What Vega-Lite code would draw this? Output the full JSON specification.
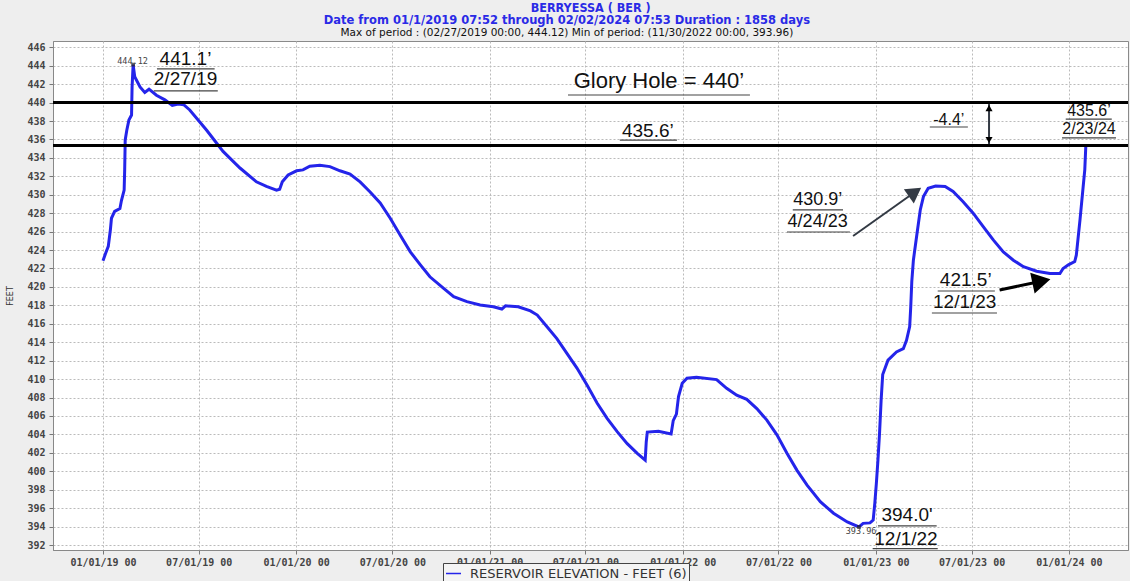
{
  "$schema": "https://vega.github.io/schema/vega-lite/v6.json",
  "width": 1075,
  "height": 509,
  "autosize": "none",
  "padding": {"left": 53, "top": 41, "right": 2, "bottom": 31},
  "config": {
    "background": "#eeeeee",
    "view": {"fill": "white", "stroke": "#8a8a8a"},
    "axis": {
      "labelFont": "DejaVu Sans Mono",
      "labelFontSize": 10,
      "labelFontWeight": "bold",
      "labelColor": "#444444",
      "labelOverlap": false,
      "tickColor": "#777777",
      "tickSize": 4,
      "domainColor": "#888888",
      "gridColor": "#bbbbbb",
      "gridDash": [2, 2],
      "gridWidth": 1
    }
  },
  "layer": [
    {
      "data": {"values": [
        {"date": "2019-01-01", "value": 422.85},
        {"date": "2019-01-06", "value": 423.65},
        {"date": "2019-01-11", "value": 424.4},
        {"date": "2019-01-15", "value": 426.2},
        {"date": "2019-01-17", "value": 427.45},
        {"date": "2019-01-23", "value": 428.2},
        {"date": "2019-02-02", "value": 428.5},
        {"date": "2019-02-05", "value": 429.4},
        {"date": "2019-02-10", "value": 430.5},
        {"date": "2019-02-11", "value": 432.7},
        {"date": "2019-02-12", "value": 435.95},
        {"date": "2019-02-15", "value": 437.0},
        {"date": "2019-02-19", "value": 438.1},
        {"date": "2019-02-24", "value": 438.65},
        {"date": "2019-02-25", "value": 441.7},
        {"date": "2019-02-27", "value": 444.12},
        {"date": "2019-03-02", "value": 442.8},
        {"date": "2019-03-12", "value": 441.7},
        {"date": "2019-03-21", "value": 441.1},
        {"date": "2019-03-29", "value": 441.45},
        {"date": "2019-04-12", "value": 440.8},
        {"date": "2019-04-28", "value": 440.3},
        {"date": "2019-05-12", "value": 439.7},
        {"date": "2019-05-23", "value": 439.85},
        {"date": "2019-06-03", "value": 439.75},
        {"date": "2019-06-14", "value": 439.2},
        {"date": "2019-07-16", "value": 437.0},
        {"date": "2019-08-16", "value": 434.7},
        {"date": "2019-09-17", "value": 432.9},
        {"date": "2019-10-18", "value": 431.4},
        {"date": "2019-11-06", "value": 430.9},
        {"date": "2019-11-25", "value": 430.5},
        {"date": "2019-12-01", "value": 430.6},
        {"date": "2019-12-06", "value": 431.4},
        {"date": "2019-12-17", "value": 432.15},
        {"date": "2020-01-02", "value": 432.6},
        {"date": "2020-01-14", "value": 432.7},
        {"date": "2020-01-27", "value": 433.1},
        {"date": "2020-02-15", "value": 433.2},
        {"date": "2020-03-05", "value": 433.05},
        {"date": "2020-03-24", "value": 432.6},
        {"date": "2020-04-12", "value": 432.25},
        {"date": "2020-05-01", "value": 431.4},
        {"date": "2020-05-20", "value": 430.3},
        {"date": "2020-06-08", "value": 429.1},
        {"date": "2020-06-27", "value": 427.45},
        {"date": "2020-07-16", "value": 425.6},
        {"date": "2020-08-04", "value": 423.8},
        {"date": "2020-08-23", "value": 422.4},
        {"date": "2020-09-10", "value": 421.1},
        {"date": "2020-10-06", "value": 419.85},
        {"date": "2020-10-25", "value": 418.95},
        {"date": "2020-11-19", "value": 418.4},
        {"date": "2020-12-14", "value": 418.05},
        {"date": "2021-01-08", "value": 417.85},
        {"date": "2021-01-24", "value": 417.6},
        {"date": "2021-01-31", "value": 417.95},
        {"date": "2021-02-24", "value": 417.85},
        {"date": "2021-03-19", "value": 417.4},
        {"date": "2021-04-01", "value": 416.95},
        {"date": "2021-04-19", "value": 415.7},
        {"date": "2021-05-08", "value": 414.4},
        {"date": "2021-05-27", "value": 412.8},
        {"date": "2021-06-15", "value": 411.2},
        {"date": "2021-07-04", "value": 409.35},
        {"date": "2021-07-23", "value": 407.4},
        {"date": "2021-08-11", "value": 405.75},
        {"date": "2021-08-30", "value": 404.3},
        {"date": "2021-09-18", "value": 403.0},
        {"date": "2021-10-07", "value": 401.95},
        {"date": "2021-10-22", "value": 401.2},
        {"date": "2021-10-24", "value": 403.2},
        {"date": "2021-10-26", "value": 404.25},
        {"date": "2021-11-16", "value": 404.35},
        {"date": "2021-12-10", "value": 404.05},
        {"date": "2021-12-14", "value": 405.5},
        {"date": "2021-12-20", "value": 406.2},
        {"date": "2021-12-24", "value": 408.1},
        {"date": "2021-12-31", "value": 409.55},
        {"date": "2022-01-09", "value": 410.1},
        {"date": "2022-01-27", "value": 410.2},
        {"date": "2022-03-06", "value": 409.95},
        {"date": "2022-03-25", "value": 409.0},
        {"date": "2022-04-13", "value": 408.25},
        {"date": "2022-05-02", "value": 407.8},
        {"date": "2022-05-21", "value": 406.8},
        {"date": "2022-06-09", "value": 405.55},
        {"date": "2022-06-28", "value": 403.95},
        {"date": "2022-07-17", "value": 401.95},
        {"date": "2022-08-05", "value": 400.1},
        {"date": "2022-08-24", "value": 398.5},
        {"date": "2022-09-18", "value": 396.7},
        {"date": "2022-10-13", "value": 395.45},
        {"date": "2022-11-08", "value": 394.5},
        {"date": "2022-11-30", "value": 393.96},
        {"date": "2022-12-08", "value": 394.35},
        {"date": "2022-12-21", "value": 394.4},
        {"date": "2022-12-27", "value": 394.7},
        {"date": "2022-12-30", "value": 396.5},
        {"date": "2023-01-02", "value": 398.7},
        {"date": "2023-01-05", "value": 401.2},
        {"date": "2023-01-08", "value": 404.1},
        {"date": "2023-01-11", "value": 407.7},
        {"date": "2023-01-14", "value": 410.5},
        {"date": "2023-01-24", "value": 412.05},
        {"date": "2023-02-09", "value": 412.95},
        {"date": "2023-02-22", "value": 413.3},
        {"date": "2023-02-28", "value": 414.2},
        {"date": "2023-03-06", "value": 415.7},
        {"date": "2023-03-08", "value": 417.85},
        {"date": "2023-03-10", "value": 420.6},
        {"date": "2023-03-13", "value": 422.9},
        {"date": "2023-03-19", "value": 425.45},
        {"date": "2023-03-26", "value": 428.35},
        {"date": "2023-04-01", "value": 429.8},
        {"date": "2023-04-10", "value": 430.7},
        {"date": "2023-04-24", "value": 430.95},
        {"date": "2023-05-12", "value": 430.9},
        {"date": "2023-05-27", "value": 430.35},
        {"date": "2023-06-15", "value": 429.25},
        {"date": "2023-07-04", "value": 428.0},
        {"date": "2023-07-23", "value": 426.55},
        {"date": "2023-08-11", "value": 425.1},
        {"date": "2023-08-30", "value": 423.8},
        {"date": "2023-09-18", "value": 422.9},
        {"date": "2023-10-07", "value": 422.2},
        {"date": "2023-11-01", "value": 421.7},
        {"date": "2023-11-26", "value": 421.45},
        {"date": "2023-12-15", "value": 421.45},
        {"date": "2023-12-21", "value": 422.0},
        {"date": "2023-12-31", "value": 422.4},
        {"date": "2024-01-12", "value": 422.75},
        {"date": "2024-01-15", "value": 423.45},
        {"date": "2024-01-22", "value": 427.3},
        {"date": "2024-01-28", "value": 430.9},
        {"date": "2024-01-31", "value": 432.7},
        {"date": "2024-02-02", "value": 435.35}
      ]},
      "mark": {"type": "line", "strokeWidth": 3, "interpolate": "linear"},
      "encoding": {
        "x": {
          "field": "date", "type": "temporal",
          "scale": {"type": "utc", "domain": ["2018-09-28T12:00:00Z", "2024-04-21T17:00:00Z"], "nice": false},
          "axis": {
            "title": null,
            "format": "%m/%d/%y %H",
            "labelPadding": 3,
            "tickCount": 40,
            "values": [
              {"year": 2019, "month": 1, "date": 1, "utc": true},
              {"year": 2019, "month": 7, "date": 1, "utc": true},
              {"year": 2020, "month": 1, "date": 1, "utc": true},
              {"year": 2020, "month": 7, "date": 1, "utc": true},
              {"year": 2021, "month": 1, "date": 1, "utc": true},
              {"year": 2021, "month": 7, "date": 1, "utc": true},
              {"year": 2022, "month": 1, "date": 1, "utc": true},
              {"year": 2022, "month": 7, "date": 1, "utc": true},
              {"year": 2023, "month": 1, "date": 1, "utc": true},
              {"year": 2023, "month": 7, "date": 1, "utc": true},
              {"year": 2024, "month": 1, "date": 1, "utc": true}
            ]
          }
        },
        "y": {
          "field": "value", "type": "quantitative",
          "scale": {"domain": [391.46, 446.68], "nice": false, "zero": false},
          "axis": {
            "title": "FEET",
            "titleFont": "DejaVu Sans",
            "titleFontSize": 8,
            "titleFontWeight": "normal",
            "titleColor": "#333333",
            "titlePadding": 12,
            "labelPadding": 4,
            "labelOverlap": false,
            "tickCount": 60,
            "values": [392, 394, 396, 398, 400, 402, 404, 406, 408, 410, 412, 414, 416, 418, 420, 422, 424, 426, 428, 430, 432, 434, 436, 438, 440, 442, 444, 446]
          }
        },
        "color": {
          "datum": "RESERVOIR ELEVATION - FEET (6)",
          "type": "nominal",
          "scale": {"range": ["#2424ea"]},
          "legend": {
            "title": null,
            "orient": "none",
            "legendX": 390,
            "legendY": 522,
            "strokeColor": "#444444",
            "fillColor": "#f4f4f4",
            "padding": 2,
            "symbolType": "stroke",
            "symbolStrokeWidth": 1.5,
            "symbolSize": 225,
            "labelFont": "DejaVu Sans",
            "labelFontSize": 13,
            "labelOffset": 8,
            "labelLimit": 400,
            "labelColor": "#333333"
          }
        }
      }
    },
    {
      "data": {"values": [{"level": 440}, {"level": 435.35}]},
      "mark": {"type": "rule", "color": "black", "strokeWidth": 3},
      "encoding": {
        "y": {"field": "level", "type": "quantitative"}
      }
    },
    {
      "data": {"values": [
        {"date": "2019-02-27", "value": 444.12},
        {"date": "2022-11-30", "value": 393.96}
      ]},
      "mark": {"type": "point", "filled": true, "color": "#222222", "size": 14, "shape": "square"},
      "encoding": {
        "x": {"field": "date", "type": "temporal", "scale": {"type": "utc"}},
        "y": {"field": "value", "type": "quantitative"}
      }
    },
    {
      "data": {"values": [
        {"date": "2019-04-13", "date2": "2019-07-31", "value": 443.65},
        {"date": "2019-04-07", "date2": "2019-08-06", "value": 441.26},
        {"date": "2021-05-29", "date2": "2022-05-08", "value": 440.82},
        {"date": "2021-09-04", "date2": "2021-12-21", "value": 435.93},
        {"date": "2023-04-13", "date2": "2023-06-24", "value": 437.35},
        {"date": "2023-12-26", "date2": "2024-03-22", "value": 438.21},
        {"date": "2023-12-19", "date2": "2024-03-30", "value": 436.16},
        {"date": "2022-07-28", "date2": "2022-10-31", "value": 428.35},
        {"date": "2022-07-17", "date2": "2022-11-13", "value": 425.96},
        {"date": "2023-04-28", "date2": "2023-08-14", "value": 419.56},
        {"date": "2023-04-17", "date2": "2023-08-18", "value": 417.17},
        {"date": "2023-01-05", "date2": "2023-04-26", "value": 394.07},
        {"date": "2022-12-26", "date2": "2023-04-28", "value": 391.6}
      ]},
      "mark": {"type": "rule", "color": "#444444", "strokeWidth": 1.2},
      "encoding": {
        "x": {"field": "date", "type": "temporal", "scale": {"type": "utc"}},
        "x2": {"field": "date2"},
        "y": {"field": "value", "type": "quantitative"}
      }
    },
    {
      "data": {"values": [
        {"date": "2022-11-19", "date2": "2023-03-16", "value": 425.53, "value2": 430.30},
        {"date": "2023-08-03", "date2": "2023-08-03", "value": 439.84, "value2": 435.5}
      ]},
      "mark": {"type": "rule", "color": "#333a44", "strokeWidth": 2},
      "encoding": {
        "x": {"field": "date", "type": "temporal", "scale": {"type": "utc"}},
        "x2": {"field": "date2"},
        "y": {"field": "value", "type": "quantitative"},
        "y2": {"field": "value2"}
      }
    },
    {
      "data": {"values": [
        {"date": "2023-08-23", "date2": "2023-11-10", "value": 419.67, "value2": 420.62}
      ]},
      "mark": {"type": "rule", "color": "black", "strokeWidth": 3},
      "encoding": {
        "x": {"field": "date", "type": "temporal", "scale": {"type": "utc"}},
        "x2": {"field": "date2"},
        "y": {"field": "value", "type": "quantitative"},
        "y2": {"field": "value2"}
      }
    },
    {
      "data": {"values": [{"date": "2023-03-16", "value": 430.30}]},
      "mark": {"type": "point", "shape": "triangle-up", "filled": true, "color": "#333a44", "opacity": 1, "size": 300, "angle": 55},
      "encoding": {
        "x": {"field": "date", "type": "temporal", "scale": {"type": "utc"}},
        "y": {"field": "value", "type": "quantitative"}
      }
    },
    {
      "data": {"values": [{"date": "2023-11-10", "value": 420.62}]},
      "mark": {"type": "point", "shape": "triangle-up", "filled": true, "color": "black", "opacity": 1, "size": 450, "angle": 78},
      "encoding": {
        "x": {"field": "date", "type": "temporal", "scale": {"type": "utc"}},
        "y": {"field": "value", "type": "quantitative"}
      }
    },
    {
      "data": {"values": [{"date": "2023-08-03", "value": 439.4}]},
      "mark": {"type": "point", "shape": "triangle-up", "filled": true, "color": "black", "opacity": 1, "size": 50},
      "encoding": {
        "x": {"field": "date", "type": "temporal", "scale": {"type": "utc"}},
        "y": {"field": "value", "type": "quantitative"}
      }
    },
    {
      "data": {"values": [{"date": "2023-08-03", "value": 435.94}]},
      "mark": {"type": "point", "shape": "triangle-down", "filled": true, "color": "black", "opacity": 1, "size": 50},
      "encoding": {
        "x": {"field": "date", "type": "temporal", "scale": {"type": "utc"}},
        "y": {"field": "value", "type": "quantitative"}
      }
    },
    {
      "data": {"values": [{"date": "2021-11-17", "value": 442.34, "label": "Glory Hole = 440’"}]},
      "mark": {"type": "text", "font": "Liberation Sans", "fontSize": 22, "color": "#111111", "align": "center", "baseline": "middle"},
      "encoding": {
        "x": {"field": "date", "type": "temporal", "scale": {"type": "utc"}},
        "y": {"field": "value", "type": "quantitative"},
        "text": {"field": "label"}
      }
    },
    {
      "data": {"values": [
        {"date": "2019-06-06", "value": 444.73, "label": "441.1’"},
        {"date": "2019-06-06", "value": 442.56, "label": "2/27/19"},
        {"date": "2021-10-27", "value": 436.92, "label": "435.6’"},
        {"date": "2023-06-20", "value": 420.75, "label": "421.5’"},
        {"date": "2023-06-18", "value": 418.37, "label": "12/1/23"},
        {"date": "2023-03-01", "value": 395.26, "label": "394.0'"},
        {"date": "2023-02-27", "value": 392.65, "label": "12/1/22"}
      ]},
      "mark": {"type": "text", "font": "Liberation Sans", "fontSize": 19, "color": "#111111", "align": "center", "baseline": "middle"},
      "encoding": {
        "x": {"field": "date", "type": "temporal", "scale": {"type": "utc"}},
        "y": {"field": "value", "type": "quantitative"},
        "text": {"field": "label"}
      }
    },
    {
      "data": {"values": [
        {"date": "2022-09-13", "value": 429.43, "label": "430.9’"},
        {"date": "2022-09-13", "value": 427.05, "label": "4/24/23"}
      ]},
      "mark": {"type": "text", "font": "Liberation Sans", "fontSize": 18, "color": "#111111", "align": "center", "baseline": "middle"},
      "encoding": {
        "x": {"field": "date", "type": "temporal", "scale": {"type": "utc"}},
        "y": {"field": "value", "type": "quantitative"},
        "text": {"field": "label"}
      }
    },
    {
      "data": {"values": [
        {"date": "2023-05-19", "value": 438.1, "label": "-4.4’"},
        {"date": "2024-02-08", "value": 439.09, "label": "435.6’"},
        {"date": "2024-02-08", "value": 437.08, "label": "2/23/24"}
      ]},
      "mark": {"type": "text", "font": "Liberation Sans", "fontSize": 16, "color": "#111111", "align": "center", "baseline": "middle"},
      "encoding": {
        "x": {"field": "date", "type": "temporal", "scale": {"type": "utc"}},
        "y": {"field": "value", "type": "quantitative"},
        "text": {"field": "label"}
      }
    },
    {
      "data": {"values": [
        {"date": "2019-02-26", "value": 444.51, "label": "444.12"},
        {"date": "2022-12-04", "value": 393.52, "label": "393.96"}
      ]},
      "mark": {"type": "text", "font": "DejaVu Sans Mono", "fontSize": 8.5, "color": "#444444", "align": "center", "baseline": "middle"},
      "encoding": {
        "x": {"field": "date", "type": "temporal", "scale": {"type": "utc"}},
        "y": {"field": "value", "type": "quantitative"},
        "text": {"field": "label"}
      }
    },
    {
      "data": {"values": [
        {"date": "2021-07-11", "value": 450.3, "label": "BERRYESSA ( BER )"}
      ]},
      "mark": {"type": "text", "font": "DejaVu Sans Condensed", "fontSize": 12.5, "fontWeight": "bold", "color": "#2a2ae6", "align": "center", "baseline": "middle"},
      "encoding": {
        "x": {"field": "date", "type": "temporal", "scale": {"type": "utc"}},
        "y": {"field": "value", "type": "quantitative"},
        "text": {"field": "label"}
      }
    },
    {
      "data": {"values": [
        {"date": "2021-05-27", "value": 448.8, "label": "Date from 01/1/2019 07:52 through 02/02/2024 07:53 Duration : 1858 days"}
      ]},
      "mark": {"type": "text", "font": "DejaVu Sans", "fontSize": 11.5, "fontWeight": "bold", "color": "#2a2ae6", "align": "center", "baseline": "middle"},
      "encoding": {
        "x": {"field": "date", "type": "temporal", "scale": {"type": "utc"}},
        "y": {"field": "value", "type": "quantitative"},
        "text": {"field": "label"}
      }
    },
    {
      "data": {"values": [
        {"date": "2021-05-27", "value": 447.55, "label": "Max of period : (02/27/2019 00:00, 444.12)  Min of period: (11/30/2022 00:00, 393.96)"}
      ]},
      "mark": {"type": "text", "font": "DejaVu Sans", "fontSize": 10.5, "color": "#111111", "align": "center", "baseline": "middle"},
      "encoding": {
        "x": {"field": "date", "type": "temporal", "scale": {"type": "utc"}},
        "y": {"field": "value", "type": "quantitative"},
        "text": {"field": "label"}
      }
    }
  ]
}
